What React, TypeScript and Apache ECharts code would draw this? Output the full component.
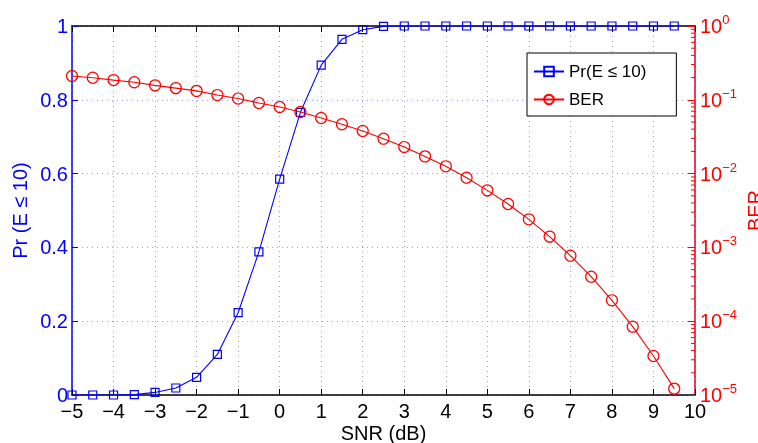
import React, { useEffect, useRef } from "react";
import * as echarts from "echarts";

const snr = [-5, -4.5, -4, -3.5, -3, -2.5, -2, -1.5, -1, -0.5, 0, 0.5, 1, 1.5, 2, 2.5, 3, 3.5, 4, 4.5, 5, 5.5, 6, 6.5, 7, 7.5, 8, 8.5, 9, 9.5];
const prValues = [0, 0, 0, 0.001, 0.007, 0.019, 0.048, 0.11, 0.223, 0.388, 0.585, 0.766, 0.894, 0.964, 0.99, 0.999, 1, 1, 1, 1, 1, 1, 1, 1, 1, 1, 1, 1, 1, 1];
const berValues = [0.21, 0.199, 0.185, 0.173, 0.157, 0.144, 0.132, 0.116, 0.104, 0.0905, 0.0798, 0.0684, 0.0567, 0.0466, 0.0378, 0.0297, 0.0229, 0.0171, 0.01256, 0.00881, 0.00593, 0.00387, 0.0024, 0.0014, 0.000772, 0.000401, 0.000192, 0.0000843, 0.0000338, 0.0000122];
const minorTickValues: number[] = [];
[-5, -4, -3, -2, -1].forEach((e) => {
  [2, 3, 4, 5, 6, 7, 8, 9].forEach((k) => minorTickValues.push(k * Math.pow(10, e)));
});

const FONT = "'Liberation Sans', Arial, Helvetica, sans-serif";
const BLUE = "#0000ff";
const RED = "#ff0000";

export default function App() {
  const ref = useRef<HTMLDivElement>(null);
  useEffect(() => {
    if (!ref.current) return;
    const chart = echarts.init(ref.current, null, { renderer: "svg" });
    const minus = (v: number) => (v < 0 ? "\u2212" + Math.abs(v) : String(v));
    chart.setOption({
      animation: false,
      textStyle: { fontFamily: FONT },
      grid: { left: 72, right: 63, top: 26, bottom: 48, containLabel: false, outerBoundsMode: "none" },
      legend: {
        data: ["Pr(E \u2264 10)", "BER"],
        orient: "vertical",
        left: 527,
        top: 53,
        itemWidth: 30,
        itemHeight: 12,
        itemGap: 11,
        padding: [10, 30, 8, 6],
        borderColor: "#000",
        borderWidth: 1,
        borderRadius: 0,
        backgroundColor: "#fff",
        textStyle: { fontSize: 17, color: "#000", fontFamily: FONT },
      },
      xAxis: [
        {
          type: "value",
          min: -5,
          max: 10,
          interval: 1,
          name: "SNR (dB)",
          nameLocation: "middle",
          nameGap: 28,
          nameMoveOverlap: false,
          nameTextStyle: { fontSize: 20, color: "#000", fontFamily: FONT },
          axisLine: { show: true, onZero: false, lineStyle: { color: "#000", width: 1.5 } },
          axisTick: { show: true, inside: true, length: 6, lineStyle: { color: "#000" } },
          axisLabel: { fontSize: 20, color: "#000", margin: 6, formatter: minus, fontFamily: FONT },
          splitLine: { show: true, lineStyle: { color: "#a0a0a0", type: [1, 4], width: 1 } },
        },
        {
          type: "value",
          min: -5,
          max: 10,
          interval: 1,
          position: "top",
          axisLine: { show: true, onZero: false, lineStyle: { color: "#000", width: 1.5 } },
          axisTick: { show: true, inside: true, length: 6, lineStyle: { color: "#000" } },
          axisLabel: { show: false },
          splitLine: { show: false },
        },
      ],
      yAxis: [
        {
          type: "value",
          min: 0,
          max: 1,
          interval: 0.2,
          position: "left",
          name: "Pr (E \u2264 10)",
          nameLocation: "middle",
          nameGap: 42,
          nameMoveOverlap: false,
          nameRotate: 90,
          nameTextStyle: { fontSize: 20, color: BLUE, fontFamily: FONT },
          axisLine: { show: true, onZero: false, lineStyle: { color: BLUE, width: 1.5 } },
          axisTick: { show: true, inside: true, length: 6, lineStyle: { color: BLUE } },
          axisLabel: {
            fontSize: 20,
            color: BLUE,
            margin: 4,
            fontFamily: FONT,
            formatter: (v: number) => (v === 0 || v === 1 ? String(v) : v.toFixed(1)),
          },
          splitLine: { show: true, lineStyle: { color: "#9a9aee", type: [1, 4], width: 1 } },
        },
        {
          type: "log",
          logBase: 10,
          min: 0.00001,
          max: 1,
          position: "right",
          name: "BER",
          nameLocation: "middle",
          nameGap: 50,
          nameMoveOverlap: false,
          nameRotate: 90,
          nameTextStyle: { fontSize: 20, color: RED, fontFamily: FONT },
          axisLine: { show: true, onZero: false, lineStyle: { color: "#e0002a", width: 1.5 } },
          axisTick: { show: true, inside: true, length: 7, lineStyle: { color: RED } },
          axisLabel: {
            color: RED,
            margin: 5,
            formatter: (v: number) => {
              const e = Math.round(Math.log10(v));
              return "{b|10}{s|" + (e < 0 ? "\u2212" + -e : String(e)) + "}";
            },
            rich: {
              b: { fontSize: 20, color: RED, fontFamily: FONT },
              s: { fontSize: 13, color: RED, fontFamily: FONT, padding: [0, 0, 13, 0] },
            },
          },
          splitLine: { show: false },
        },
      ],
      series: [
        {
          name: "Pr(E \u2264 10)",
          type: "line",
          xAxisIndex: 0,
          yAxisIndex: 0,
          data: snr.map((x, i) => [x, prValues[i]]),
          symbol: "rect",
          symbolSize: 8,
          lineStyle: { color: BLUE, width: 1.1 },
          itemStyle: { color: "rgba(255,255,255,0)", borderColor: BLUE, borderWidth: 1.2 },
          z: 3,
        },
        {
          name: "BER",
          type: "line",
          xAxisIndex: 0,
          yAxisIndex: 1,
          data: snr.map((x, i) => [x, berValues[i]]),
          symbol: "circle",
          symbolSize: 11,
          lineStyle: { color: RED, width: 1.1 },
          itemStyle: { color: "rgba(255,255,255,0)", borderColor: RED, borderWidth: 1.2 },
          z: 4,
        },
        {
          name: "minorTicks",
          type: "custom",
          xAxisIndex: 0,
          yAxisIndex: 1,
          silent: true,
          data: minorTickValues.map((v) => [10, v]),
          renderItem: (params: any, api: any) => {
            const p = api.coord([api.value(0), api.value(1)]);
            return {
              type: "line",
              shape: { x1: p[0], y1: p[1], x2: p[0] - 4, y2: p[1] },
              style: { stroke: RED, lineWidth: 1 },
            };
          },
          z: 5,
        },
      ],
    });
    return () => chart.dispose();
  }, []);
  return <div ref={ref} style={{ position: "fixed", left: 0, top: 0, width: 758, height: 443 }} />;
}
